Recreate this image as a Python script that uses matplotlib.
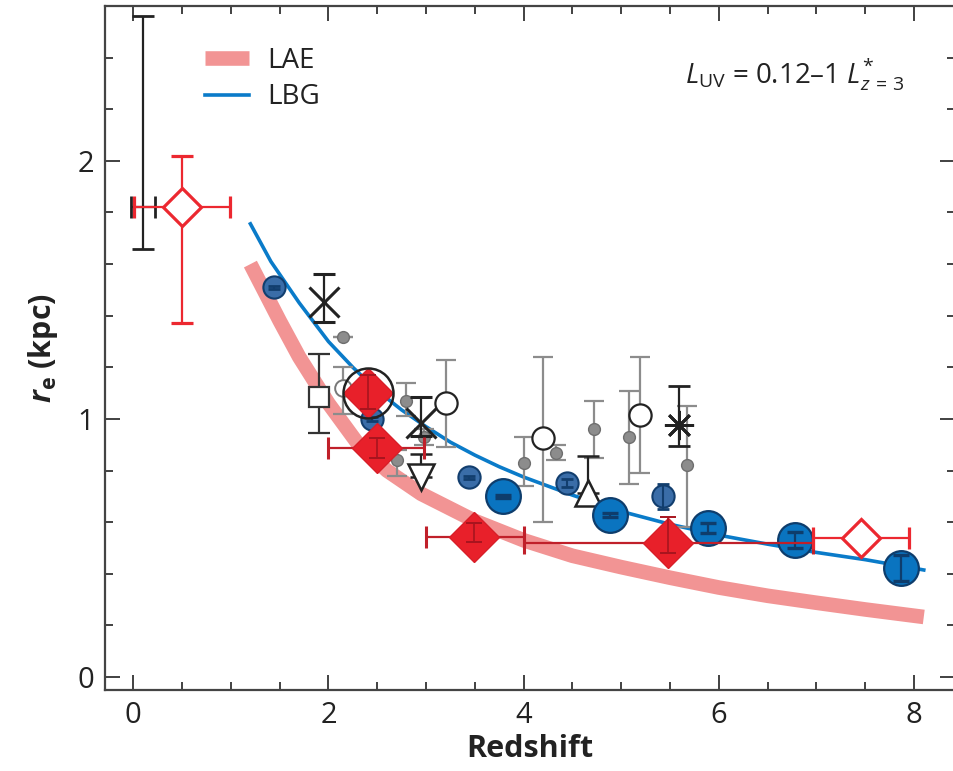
import matplotlib
matplotlib.use("Agg")
import matplotlib.pyplot as plt
from matplotlib.ticker import MultipleLocator

plt.rcParams['font.family'] = ['Open Sans', 'DejaVu Sans']
plt.rcParams['mathtext.fontset'] = 'custom'
plt.rcParams['mathtext.rm'] = 'Open Sans'
plt.rcParams['mathtext.it'] = 'Open Sans:italic'
plt.rcParams['mathtext.bf'] = 'Open Sans:bold'
plt.rcParams['mathtext.bfit'] = 'Open Sans:italic:bold'

# fitted size evolution curves
lae_z = [1.2, 1.5, 1.7, 2.0, 2.3, 2.6, 2.95, 3.5, 4.0, 4.5, 5.0, 5.5, 6.0, 6.5, 7.0, 7.5, 8.1]
lae_r = [1.60, 1.38, 1.24, 1.06, 0.905, 0.80, 0.71, 0.605, 0.53, 0.47, 0.426, 0.385, 0.347, 0.315, 0.288, 0.262, 0.233]
lbg_z = [1.2, 1.41, 1.7, 2.0, 2.25, 2.5, 2.75, 3.0, 3.25, 3.5, 3.75, 4.0, 4.5, 5.0, 5.5, 6.0, 6.5, 7.0, 7.5, 8.1]
lbg_r = [1.756, 1.61, 1.45, 1.30, 1.20, 1.11, 1.035, 0.97, 0.91, 0.86, 0.815, 0.775, 0.705, 0.642, 0.592, 0.55, 0.515, 0.483, 0.455, 0.415]

# LAE filled diamonds
laef_z = [2.41, 2.50, 3.49, 5.48]
laef_r = [1.10, 0.888, 0.543, 0.52]
laef_xlo = [0.0, 0.50, 0.49, 1.48]
laef_xhi = [0.0, 0.48, 0.51, 1.49]
laef_rlo = [0.06, 0.04, 0.02, 0.04]
laef_rhi = [0.07, 0.04, 0.055, 0.10]

# LAE open diamonds
laeo_z = [0.50, 7.46]
laeo_r = [1.82, 0.54]
laeo_xerr = [0.49, 0.49]
laeo_rlo = [0.45, 0.0]
laeo_rhi = [0.20, 0.0]

# black cross at low z
low_z, low_r = [0.10], [1.82]
low_xerr, low_rlo, low_rhi = [0.12], [0.16], [0.74]

# LBG large circles
lbgL_z = [3.79, 4.88, 5.89, 6.78, 7.87]
lbgL_r = [0.70, 0.628, 0.577, 0.531, 0.422]
lbgL_err = [0.006, 0.006, 0.02, 0.03, 0.05]

# LBG small circles
lbgS_z = [1.44, 2.45, 3.44, 4.44, 5.43]
lbgS_r = [1.51, 1.0, 0.775, 0.752, 0.70]
lbgS_err = [0.006, 0.006, 0.006, 0.015, 0.05]

# grey small points
gry_z = [2.15, 2.79, 2.70, 2.98, 4.00, 4.72, 5.08, 5.67, 4.33]
gry_r = [1.318, 1.07, 0.84, 0.93, 0.83, 0.96, 0.93, 0.82, 0.87]
gry_rlo = [0.0, 0.06, 0.06, 0.03, 0.09, 0.11, 0.18, 0.24, 0.03]
gry_rhi = [0.0, 0.07, 0.04, 0.03, 0.10, 0.11, 0.18, 0.23, 0.03]

# open circles
opc_z = [2.15, 3.20, 4.20, 5.19]
opc_r = [1.12, 1.06, 0.925, 1.015]
opc_rlo = [0.10, 0.17, 0.325, 0.225]
opc_rhi = [0.08, 0.17, 0.315, 0.225]

# other black symbols
sq_z, sq_r, sq_rlo, sq_rhi = [1.90], [1.085], [0.14], [0.165]
x_z, x_r, x_rlo, x_rhi = [1.95, 2.95], [1.455, 0.985], [0.08, 0.05], [0.105, 0.10]
ast_z, ast_r, ast_rlo, ast_rhi = [5.59], [0.977], [0.08], [0.15]
tdn_z, tdn_r, tdn_rhi = [2.95], [0.775], [0.09]
tup_z, tup_r, tup_rhi = [4.66], [0.715], [0.14]
big_z, big_r = [2.41], [1.10]

fig = plt.figure(figsize=(9.54, 7.71), dpi=100)
ax = fig.add_axes([105/954, 81/771, 850/954, 684/771])

ax.plot(lae_z, lae_r, color='#F29494', lw=10.5, solid_capstyle='butt', zorder=1, label='LAE')
ax.plot(lbg_z, lbg_r, color='#0A7BC9', lw=2.6, zorder=2, label='LBG')

# grey points
ax.errorbar(gry_z, gry_r, yerr=[gry_rlo, gry_rhi], fmt='o', ms=8.5, color='#8C8C8C',
            mec='#6E6E6E', ecolor='#8C8C8C', elinewidth=1.6, capsize=7, capthick=1.6, zorder=3)
ax.errorbar(opc_z, opc_r, yerr=[opc_rlo, opc_rhi], fmt='none', ecolor='#8C8C8C',
            elinewidth=1.6, capsize=7, capthick=1.6, zorder=3)
ax.plot(opc_z[1:], opc_r[1:], 'o', ms=16, mfc='white', mec='#222222', mew=1.6, zorder=4)
ax.plot(opc_z[:1], opc_r[:1], 'o', ms=12, mfc='white', mec='#777777', mew=1.4, zorder=4)

# black symbols
ax.errorbar(low_z, low_r, xerr=low_xerr, yerr=[low_rlo, low_rhi], fmt='none', ecolor='#222222',
            elinewidth=1.6, capsize=8, capthick=2, zorder=3)
ax.errorbar(sq_z, sq_r, yerr=[sq_rlo, sq_rhi], fmt='s', ms=14, mfc='white', mec='#333333', mew=1.6,
            ecolor='#333333', elinewidth=1.6, capsize=8, capthick=2, zorder=4)
ax.errorbar(x_z, x_r, yerr=[x_rlo, x_rhi], fmt='x', ms=21, mec='#222222', mew=2.2,
            ecolor='#222222', elinewidth=1.6, capsize=8, capthick=2, zorder=4)
ax.errorbar(ast_z, ast_r, yerr=[ast_rlo, ast_rhi], fmt='none', ecolor='#222222',
            elinewidth=1.6, capsize=8, capthick=2, zorder=4)
ax.plot(ast_z, ast_r, marker=(8, 2, 0), ms=21, mec='#222222', mew=2.0, ls='none', zorder=4)
ax.errorbar(tdn_z, tdn_r, yerr=[[0], tdn_rhi], fmt='v', ms=19, mfc='white', mec='#222222', mew=1.8,
            ecolor='#222222', elinewidth=1.6, capsize=8, capthick=2.4, zorder=4)
ax.errorbar(tup_z, tup_r, yerr=[[0], tup_rhi], fmt='^', ms=19, mfc='white', mec='#222222', mew=1.8,
            ecolor='#222222', elinewidth=1.6, capsize=8, capthick=2.4, zorder=4)

# LBG circles
ax.plot(lbgS_z, lbgS_r, 'o', ms=16, mfc='#3A6DA8', mec='#123E6E', mew=1.5, zorder=5)
ax.errorbar(lbgS_z, lbgS_r, yerr=lbgS_err, fmt='none', ecolor='#123E6E', elinewidth=1.5,
            capsize=4.5, capthick=2, zorder=5)
ax.plot(lbgL_z, lbgL_r, 'o', ms=25, mfc='#0A74C0', mec='#0E3D6C', mew=1.6, zorder=5)
ax.errorbar(lbgL_z, lbgL_r, yerr=lbgL_err, fmt='none', ecolor='#0E3D6C', elinewidth=1.6,
            capsize=5.5, capthick=2.4, zorder=5)

# LAE diamonds
ax.errorbar(laef_z, laef_r, xerr=[laef_xlo, laef_xhi], fmt='none', ecolor='#C0202A',
            elinewidth=1.6, capsize=8, capthick=2.2, zorder=6)
ax.plot(laef_z, laef_r, 'D', ms=25.5, mfc='#E8202A', mec='#D81E28', mew=1.0, zorder=6)
ax.errorbar(laef_z, laef_r, yerr=[laef_rlo, laef_rhi], fmt='none', ecolor='#A8141E',
            elinewidth=1.2, capsize=6, capthick=1.4, zorder=6)
ax.errorbar(laeo_z, laeo_r, xerr=laeo_xerr, yerr=[laeo_rlo, laeo_rhi], fmt='D', ms=19,
            mfc='white', mec='#EC2830', mew=2.3, ecolor='#EC2830', elinewidth=1.6,
            capsize=8, capthick=2.2, zorder=6)
ax.plot(big_z, big_r, 'o', ms=36, mfc='none', mec='#222222', mew=1.8, zorder=7)

ax.set_xlim(-0.29, 8.42)
ax.set_ylim(-0.05, 2.60)
ax.xaxis.set_major_locator(MultipleLocator(2))
ax.xaxis.set_minor_locator(MultipleLocator(0.5))
ax.yaxis.set_major_locator(MultipleLocator(1))
ax.yaxis.set_minor_locator(MultipleLocator(0.2))
ax.tick_params(which='both', direction='in', top=True, right=True, width=1.3, color='#333333',
               labelsize=21, labelcolor='#222222')
ax.tick_params(which='major', length=11, pad=8)
ax.tick_params(which='minor', length=6)
for s in ax.spines.values():
    s.set_linewidth(1.6)
    s.set_color('#444444')

ax.set_xlabel('Redshift', fontsize=22, fontweight='bold', color='#222222', labelpad=3)
ax.set_ylabel(r'$\mathbfit{r}_{\mathbf{e}}$ (kpc)', fontsize=22, fontweight='bold',
              color='#222222', labelpad=12)

ax.legend(loc='upper left', bbox_to_anchor=(0.1176, 0.94), frameon=False, fontsize=20,
          handlelength=1.6, handletextpad=0.65, labelspacing=0.3, borderpad=0,
          borderaxespad=0, labelcolor='#222222')
ax.text(0.941, 0.887, r'$L_{\mathrm{UV}}$ = 0.12–1 $L^{*}_{z\,=\,3}$', transform=ax.transAxes,
        ha='right', va='baseline', fontsize=20, color='#222222')

fig.savefig('out.png', dpi=100)
